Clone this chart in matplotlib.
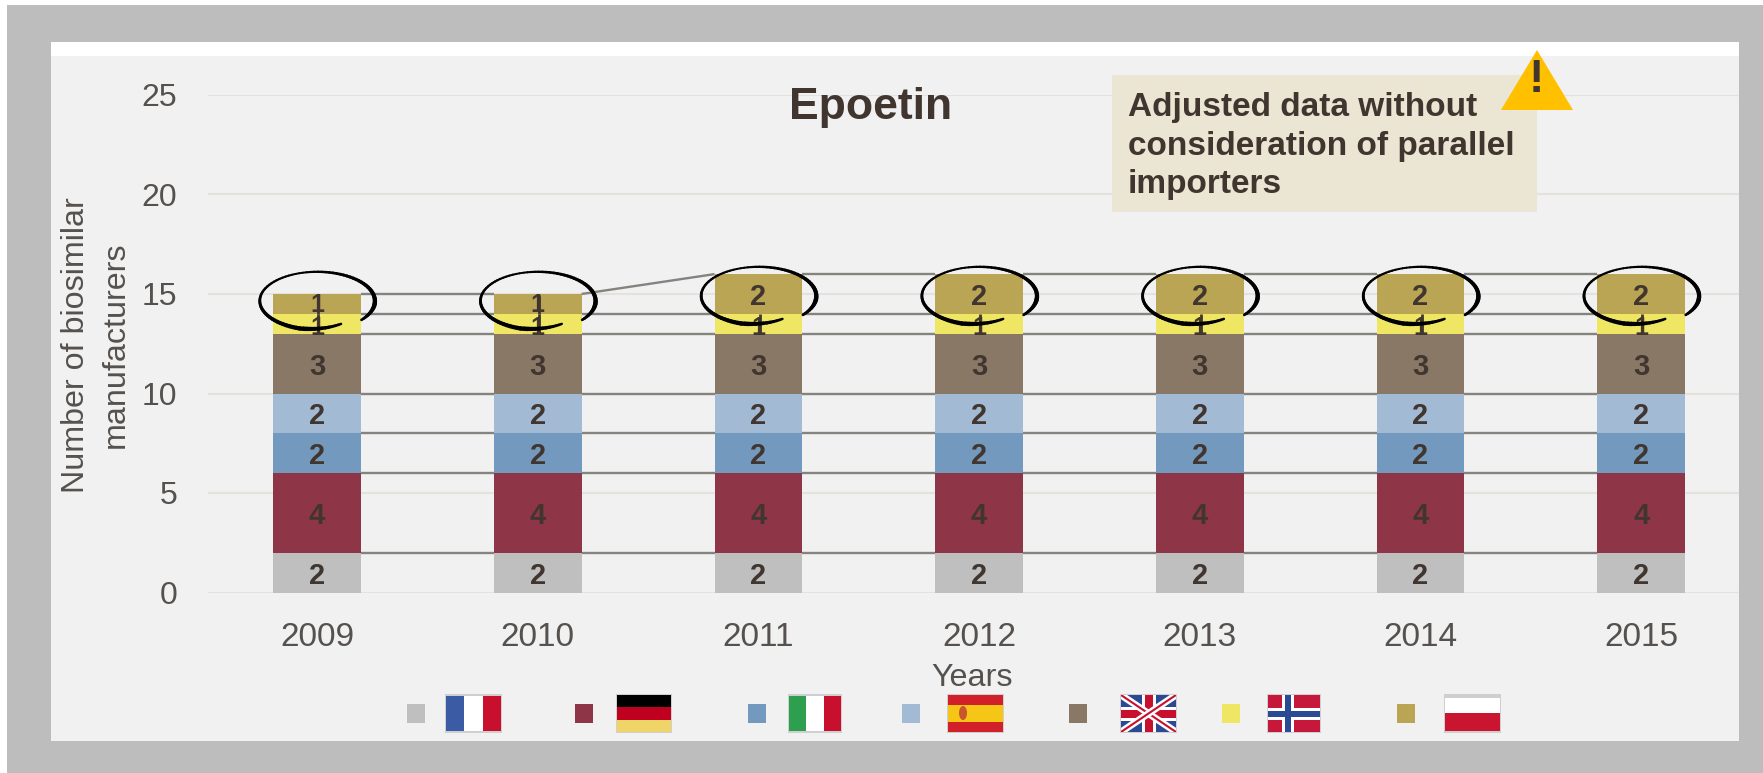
import numpy as np
import matplotlib
matplotlib.use("Agg")
import matplotlib.pyplot as plt
from matplotlib.patches import Rectangle, Polygon, Ellipse
from matplotlib.collections import LineCollection

years = ["2009", "2010", "2011", "2012", "2013", "2014", "2015"]
france = [2, 2, 2, 2, 2, 2, 2]
germany = [4, 4, 4, 4, 4, 4, 4]
italy = [2, 2, 2, 2, 2, 2, 2]
spain = [2, 2, 2, 2, 2, 2, 2]
uk = [3, 3, 3, 3, 3, 3, 3]
norway = [1, 1, 1, 1, 1, 1, 1]
poland = [1, 1, 2, 2, 2, 2, 2]
series = [france, germany, italy, spain, uk, norway, poland]
colors = ["#BFBFBF", "#8E3548", "#7399BF", "#A3BAD4", "#8A7867", "#EFE663", "#B9A554"]
y_ticks = [0, 5, 10, 15, 20, 25]
title = "Epoetin"
note = "Adjusted data without\nconsideration of parallel\nimporters"
y_label = "Number of biosimilar\nmanufacturers"
x_label = "Years"

W, H = 1763, 773
TXT = "#55514E"
DARK = "#40362F"
plt.rcParams["font.family"] = ["Liberation Sans", "DejaVu Sans"]
fig = plt.figure(figsize=(W / 100, H / 100), dpi=100, facecolor="white")

# pixel-coordinate layers for the page furniture
bg = fig.add_axes([0, 0, 1, 1], zorder=0)
bg.set_xlim(0, W); bg.set_ylim(H, 0); bg.axis("off")
bg.add_patch(Rectangle((7, 5), W - 7, H - 5, fc="#BDBDBD", ec="none"))
bg.add_patch(Rectangle((51, 42), 1688, 14, fc="white", ec="none"))
bg.add_patch(Rectangle((51, 56), 1688, 685, fc="#F1F1F1", ec="none"))

# main axes
L, R, T, B = 208, 1739, 95, 592.5
ax = fig.add_axes([L / W, 1 - B / H, (R - L) / W, (B - T) / H], zorder=1)
ax.patch.set_alpha(0)
spacing = 220.7
x0 = 317
ax.set_xlim((L - x0) / spacing, (R - x0) / spacing)
ax.set_ylim(0, 25)
for s in ax.spines.values():
    s.set_visible(False)
ax.set_yticks(y_ticks)
x = np.arange(len(years))
ax.set_xticks(x, years)
ax.tick_params(length=0, labelcolor=TXT)
ax.tick_params(axis="y", pad=22, labelsize=23)
ax.tick_params(axis="x", pad=21.5, labelsize=24)
ax.grid(axis="y", color="#E5E1DD", lw=1.5)
ax.set_axisbelow(True)
bw = 0.397

fig.text(76 / W, 1 - 345 / H, y_label.split("\n")[0], rotation=90, ha="center", va="center", fontsize=23.2, color=TXT)
fig.text(116 / W, 1 - 345 / H, y_label.split("\n")[1], rotation=90, ha="center", va="center", fontsize=23.2, color=TXT)
fig.text(972 / W, 1 - 678 / H, x_label, ha="center", va="center", fontsize=23.3, color=TXT)

bottom = np.zeros(len(years))
for vals, c in zip(series, colors):
    v = np.array(vals, float)
    ax.bar(x, v, bw, bottom=bottom, color=c, zorder=2)
    tops = bottom + v
    for i in range(len(x) - 1):
        ax.plot([x[i] + bw / 2, x[i + 1] - bw / 2], [tops[i], tops[i + 1]],
                color="#85837F", lw=1.7, zorder=1.5, solid_capstyle="butt")
    nudge = {id(norway): -0.06, id(poland): 0.06}.get(id(vals), 0)
    for i, val in enumerate(vals):
        ax.text(x[i], bottom[i] + val / 2 + (nudge if val == 1 else 0), str(val),
                ha="center", va="center_baseline",
                fontsize=18 if val == 1 else 21, fontweight="bold", color=DARK, zorder=4)
    if vals is norway:
        ax.vlines(x + 0.005, bottom, tops, color=DARK, lw=2.0, zorder=3.5)
    if vals is poland:
        ones = np.array(vals) == 1
        ax.vlines(x[ones] + 0.005, bottom[ones], tops[ones] - 0.05, color=DARK, lw=2.0, zorder=3.5)
    bottom = tops

# hand-drawn circles round the top of each stack
theta = np.radians(np.linspace(-62, -400, 90))
for i, total in enumerate(bottom):
    cy = 14.65 if total == 15 else 14.9
    grow = np.interp(np.arange(90), [0, 12, 89], [0.9, 1.0, 1.02])
    px = x[i] + 0.258 * grow * np.cos(theta)
    py = cy + 1.45 * grow * np.sin(theta)
    pts = np.column_stack([px, py])
    segs = np.stack([pts[:-1], pts[1:]], axis=1)
    widths = 1.2 + 2.0 * np.interp(np.arange(89), [0, 10, 35, 50, 70, 80, 89], [.3, 1, .3, .1, .7, 1, .3])
    ax.add_collection(LineCollection(segs, colors="black", linewidths=widths, capstyle="round",
                                     zorder=6, clip_on=False))

# top layer: note box, warning sign, title, legend flags
top = fig.add_axes([0, 0, 1, 1], zorder=2)
top.set_xlim(0, W); top.set_ylim(H, 0); top.axis("off"); top.patch.set_alpha(0)
top.text(871, 108, title, ha="center", va="center", fontsize=32, fontweight="bold", color=DARK)
top.add_patch(Rectangle((1112, 75), 425, 137, fc="#EBE5D3", ec="none"))
top.add_patch(Polygon([[1537, 50], [1501, 110], [1573, 110]], fc="#FFC000", ec="none"))
top.text(1536, 80, "!", ha="center", va="center", fontsize=33, fontweight="bold", color=DARK)
top.text(1128, 146, note, ha="left", va="center", fontsize=24, fontweight="bold",
         color=DARK, linespacing=1.3)

sw_x = [407, 575, 748, 902, 1069, 1222, 1397]
flag_x = [(446, 501), (617, 671), (789, 841), (948, 1003), (1121, 1176), (1268, 1320), (1445, 1500)]
fy0, fy1 = 695, 732
for sx, c in zip(sw_x, colors):
    top.add_patch(Rectangle((sx, 704), 18, 19, fc=c, ec="none"))

def rect(a, b, y0, y1, c):
    return top.add_patch(Rectangle((a, y0), b - a, y1 - y0, fc=c, ec="none"))

RED = "#C8102E"; BLUE = "#3B5BA5"; NAVY = "#2B4A94"
for a, b in flag_x:
    top.add_patch(Rectangle((a - 1, fy0 - 1), b - a + 2, fy1 - fy0 + 2, fc="#CFCFCF", ec="none"))

def vbands(i, cs):
    a, b = flag_x[i]
    w = (b - a) / 3
    for k, c in enumerate(cs):
        rect(a + k * w, a + (k + 1) * w, fy0 + 1, fy1 - 1, c)

vbands(0, [BLUE, "white", RED])
vbands(2, ["#2E9E4F", "white", RED])
# Germany
a, b = flag_x[1]
rect(a, b, fy0, fy0 + 12, "black"); rect(a, b, fy0 + 12, fy0 + 25, "#C0001F"); rect(a, b, fy0 + 25, fy1, "#EFD468")
# Spain
a, b = flag_x[3]
rect(a, b, fy0, fy1, "#D2202A"); rect(a, b, fy0 + 10, fy0 + 27, "#F6C616")
top.add_patch(Ellipse((a + 15, fy0 + 18), 8, 14, fc="#C8552B", ec="none"))
# UK
a, b = flag_x[4]
clip = rect(a, b, fy0, fy1, NAVY)
for d in ([[a, fy0], [b, fy1]], [[a, fy1], [b, fy0]]):
    l1, = top.plot(*zip(*d), color="white", lw=5, solid_capstyle="butt")
    l2, = top.plot(*zip(*d), color=RED, lw=1.5, solid_capstyle="butt")
    l1.set_clip_path(clip); l2.set_clip_path(clip)
m = (a + b) / 2; mid = (fy0 + fy1) / 2
rect(m - 7, m + 7, fy0, fy1, "white"); rect(a, b, mid - 7, mid + 7, "white")
rect(m - 4, m + 4, fy0, fy1, RED); rect(a, b, mid - 4, mid + 4, RED)
# Norway
a, b = flag_x[5]
rect(a, b, fy0, fy1, "#C5183A")
m = a + 20
rect(m - 6, m + 6, fy0, fy1, "white"); rect(a, b, mid - 6, mid + 6, "white")
rect(m - 3, m + 3, fy0, fy1, NAVY); rect(a, b, mid - 3, mid + 3, NAVY)
# Poland
a, b = flag_x[6]
rect(a, b, fy0 + 3, mid - 1, "white"); rect(a, b, mid - 1, fy1 - 1, "#C9152F")

fig.savefig("out.png", dpi=100, facecolor="white")
